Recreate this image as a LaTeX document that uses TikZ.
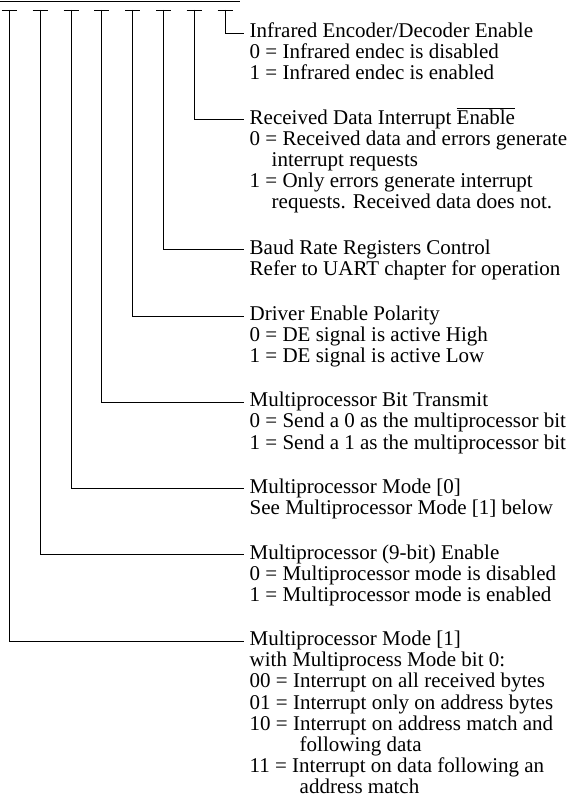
\documentclass[tikz,border=0pt]{standalone}
\usepackage{fontspec}
\setmainfont{Liberation Serif}
\newcommand{\grp}[1]{\vtop{\baselineskip=21.2pt\lineskiplimit=-100pt\lineskip=0pt #1}}
\newcommand{\oneline}[1]{\hbox{#1}}
\newcommand{\hang}[2]{\hbox{\hskip#1 #2}}
\begin{document}
\begin{tikzpicture}[x=1pt,y=-1pt,
  wire/.style={line width=0.9pt},
  title/.style={anchor=base west, inner xsep=6pt, inner ysep=0pt, text height=14pt, text depth=5pt, font=\fontsize{21}{21.2}\selectfont},
  body/.style={anchor=base west, inner xsep=6pt, inner ysep=0pt, font=\fontsize{21}{21.2}\selectfont}]
\useasboundingbox (0,0) rectangle (575,800);
% register bar
\draw[wire] (0,1) -- (240,1);
\foreach \i/\x in {7/9,6/40,5/71,4/101.5,3/132.5,2/163.5,1/194,0/225}{
  \coordinate (b\i) at (\x,10);
  \draw[wire] ([xshift=-7.5pt]b\i) -- ([xshift=7.5pt]b\i);
}
% titles
\node[title] (t0) at (243.5,37.5)  {Infrared Encoder/Decoder Enable};
\node[title] (t1) at (243.5,124.0) {Received Data Interrupt $\overline{\mbox{Enable}}$};
\node[title] (t2) at (243.5,254.0) {Baud Rate Registers Control};
\node[title] (t3) at (243.5,320.5) {Driver Enable Polarity};
\node[title] (t4) at (243.5,406.7) {Multiprocessor Bit Transmit};
\node[title] (t5) at (243.5,493.0) {Multiprocessor Mode [0]};
\node[title] (t6) at (243.5,559.2) {Multiprocessor (9-bit) Enable};
\node[title] (t7) at (243.5,645.5) {Multiprocessor Mode [1]};
% bodies
\node[body] (d0) at ([yshift=-21.2pt]t0.base west) {\grp{\oneline{0 = Infrared endec is disabled}\oneline{1 = Infrared endec is enabled}}};
\node[body] (d1) at ([yshift=-21.2pt]t1.base west) {\grp{\oneline{0 = Received data and errors generate}\hang{22pt}{interrupt requests}\oneline{1 = Only errors generate interrupt}\hang{22pt}{requests. Received data does not.}}};
\node[body] (d2) at ([yshift=-21.2pt]t2.base west) {\grp{\oneline{Refer to UART chapter for operation}}};
\node[body] (d3) at ([yshift=-21.2pt]t3.base west) {\grp{\oneline{0 = DE signal is active High}\oneline{1 = DE signal is active Low}}};
\node[body] (d4) at ([yshift=-21.2pt]t4.base west) {\grp{\oneline{0 = Send a 0 as the multiprocessor bit}\oneline{1 = Send a 1 as the multiprocessor bit}}};
\node[body] (d5) at ([yshift=-21.2pt]t5.base west) {\grp{\oneline{See Multiprocessor Mode [1] below}}};
\node[body] (d6) at ([yshift=-21.2pt]t6.base west) {\grp{\oneline{0 = Multiprocessor mode is disabled}\oneline{1 = Multiprocessor mode is enabled}}};
\node[body] (d7) at ([yshift=-21.2pt]t7.base west) {\grp{\oneline{with Multiprocess Mode bit 0:}\oneline{00 = Interrupt on all received bytes}\oneline{01 = Interrupt only on address bytes}\oneline{10 = Interrupt on address match and}\hang{50pt}{following data}\oneline{11 = Interrupt on data following an}\hang{50pt}{address match}}};
% connectors
\foreach \i in {0,...,7}{
  \draw[wire] (b\i) |- (t\i.west);
}
\end{tikzpicture}
\end{document}
